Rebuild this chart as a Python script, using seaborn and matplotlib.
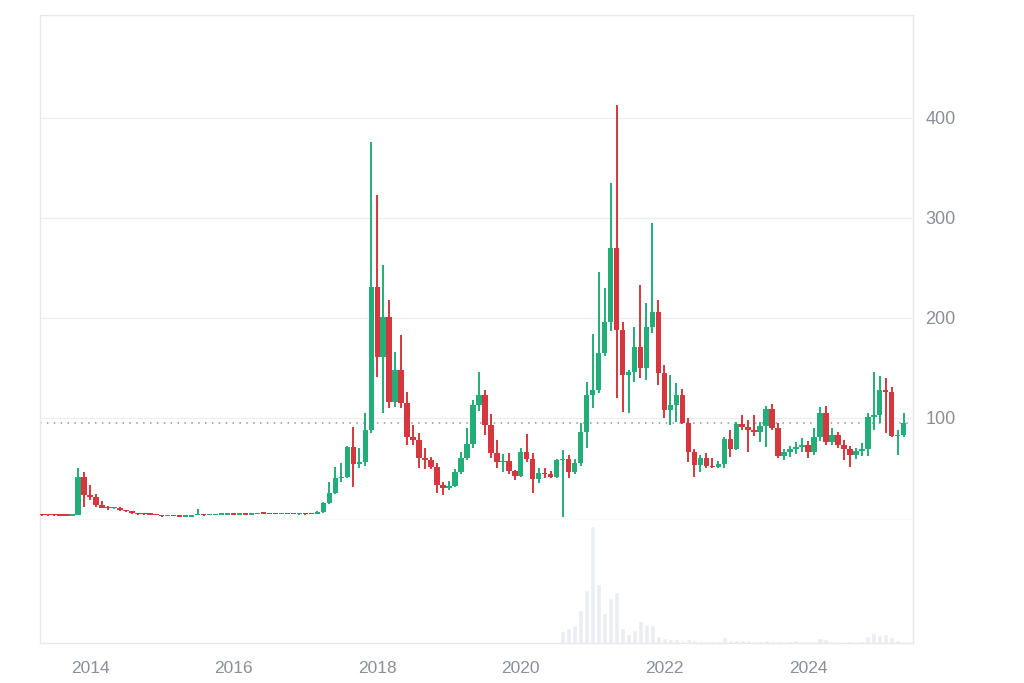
import pandas as pd
import matplotlib
matplotlib.use("Agg")
import matplotlib.pyplot as plt
import seaborn as sns

# monthly candles, May 2013 .. May 2025
months = pd.date_range("2013-05-01", "2025-05-01", freq="MS")

open_ = [
    4.3, 3.0, 2.8, 2.6, 2.5, 2.1, 3.1, 41,
    23, 21, 13, 10.5, 10, 10.5, 8.2, 6.8, 5.0, 3.9, 3.8, 3.5,
    2.7, 1.7, 1.8, 1.6, 1.4, 1.4, 2.8, 4.2, 2.8, 2.9, 3.1, 3.4,
    3.5, 3.1, 3.3, 3.2, 3.7, 4.7, 4.2, 4.0, 3.7, 3.9, 3.85, 3.8,
    4.3, 4.0, 3.8, 6, 15, 25, 40, 41, 71, 54, 56, 88,
    231, 161, 201, 116, 148, 115, 81, 78, 60, 58, 51, 33,
    30, 32, 46, 60, 74, 113, 123, 93, 65, 56, 57, 47,
    42, 66, 59, 39, 45, 44, 41, 58, 59, 46, 55, 86,
    123, 128, 165, 196, 270, 188, 143, 146, 171, 150, 191, 206,
    145, 108, 113, 123, 95, 66, 53, 60, 52, 51, 54, 79,
    69, 94, 91, 88, 86, 92, 109, 90, 62, 66, 69, 71,
    73, 66, 81, 105, 76, 83, 73, 69, 63, 67, 69, 101,
    103, 128, 126, 82, 83,
]
high = [
    4.4, 3.1, 3.0, 3.0, 2.7, 3.4, 50, 46,
    33, 24, 17, 12, 11.5, 11.5, 8.5, 7.0, 5.3, 4.2, 4.0, 3.6,
    2.8, 2.1, 2.2, 1.7, 1.6, 3.0, 8.9, 4.3, 3.2, 3.3, 4.7, 4.3,
    4.0, 3.6, 3.5, 3.9, 4.9, 5.0, 4.3, 4.0, 4.0, 4.1, 4.1, 4.6,
    4.6, 4.1, 7.2, 16, 36, 51, 55, 72, 91, 70, 105, 376,
    323, 253, 218, 166, 183, 126, 93, 85, 70, 61, 55, 36,
    37, 49, 66, 90, 118, 146, 128, 104, 78, 64, 65, 48,
    70, 84, 65, 50, 50, 47, 59, 68, 63, 59, 95, 136,
    184, 246, 230, 335, 413, 196, 148, 191, 233, 215, 295, 218,
    153, 143, 135, 129, 100, 69, 63, 65, 60, 57, 81, 88,
    96, 103, 98, 103, 96, 112, 114, 95, 69, 72, 76, 80,
    77, 90, 111, 112, 90, 86, 78, 72, 70, 75, 105, 146,
    142, 140, 131, 88, 105,
]
low = [
    2.2, 2.5, 2.3, 2.4, 2.0, 2.0, 2.9, 11,
    18, 11.5, 10, 8.5, 9.5, 7.5, 6.5, 4.5, 3.3, 3.4, 3.3, 2.6,
    1.1, 1.6, 1.6, 1.3, 1.3, 1.3, 2.8, 2.4, 2.7, 2.9, 2.9, 3.2,
    3.0, 3.0, 3.1, 3.1, 3.6, 4.0, 3.8, 3.6, 3.6, 3.7, 3.7, 3.5,
    3.5, 3.7, 3.7, 5.5, 14, 24, 36, 40, 31, 50, 52, 85,
    141, 105, 110, 111, 110, 73, 73, 50, 49, 49, 25, 23,
    28, 31, 44, 58, 70, 107, 83, 60, 50, 46, 44, 38,
    41, 56, 25, 35, 40, 40, 40, 1, 40, 44, 52, 70,
    110, 125, 162, 187, 120, 106, 105, 136, 140, 138, 185, 133,
    100, 93, 96, 94, 56, 41, 46, 50, 50, 50, 50, 61,
    68, 88, 66, 82, 76, 71, 88, 60, 58, 61, 64, 66,
    60, 63, 77, 73, 73, 70, 58, 51, 59, 62, 62, 88,
    95, 85, 81, 63, 81,
]
close = [
    3.0, 2.8, 2.6, 2.5, 2.1, 3.1, 41, 23,
    21, 13, 10.5, 10, 10.5, 8.2, 6.8, 5.0, 3.9, 3.8, 3.5, 2.7,
    1.7, 1.8, 1.6, 1.4, 1.4, 2.8, 4.2, 2.8, 2.9, 3.1, 3.4, 3.5,
    3.1, 3.3, 3.2, 3.7, 4.7, 4.2, 4.0, 3.7, 3.9, 3.85, 3.8, 4.3,
    4.0, 3.8, 6, 15, 25, 40, 41, 71, 54, 56, 88, 231,
    161, 201, 116, 148, 115, 81, 78, 60, 58, 51, 33, 30,
    32, 46, 60, 74, 113, 123, 93, 65, 56, 57, 47, 42,
    66, 59, 39, 45, 44, 41, 58, 59, 46, 55, 86, 123,
    128, 165, 196, 270, 188, 143, 146, 171, 150, 191, 206, 145,
    108, 113, 123, 95, 66, 53, 60, 52, 51, 54, 79, 69,
    94, 91, 88, 86, 92, 109, 90, 62, 66, 69, 71, 73,
    66, 81, 105, 76, 83, 73, 69, 63, 67, 69, 101, 103,
    128, 126, 82, 83, 95,
]
volume = [
    0, 0, 0, 0, 0, 0, 0, 0,
    0, 0, 0, 0, 0, 0, 0, 0, 0, 0, 0, 0,
    0, 0, 0, 0, 0, 0, 0, 0, 0, 0, 0, 0,
    0, 0, 0, 0, 0, 0, 0, 0, 0, 0, 0, 0,
    0, 0, 0, 0, 0, 0, 0, 0, 0, 0, 0, 0,
    0, 0, 0, 0, 0, 0, 0, 0, 0, 0, 0, 0,
    0, 0, 0, 0, 0, 0, 0, 0, 0, 0, 0, 0,
    0, 0, 0, 0, 0, 0, 0, 12, 15, 18, 33, 53,
    117, 59, 30, 45, 51, 15, 9, 13, 22, 18, 18, 7,
    5, 4, 4.3, 3, 4, 3, 2.5, 2.5, 2, 2, 5.7, 3,
    3, 3, 3.5, 2.5, 2, 3, 2.5, 2, 1.5, 2, 3, 2.5,
    2, 2.5, 5, 4, 2, 1.5, 1.5, 2, 1.5, 2, 7, 10,
    8, 9, 6, 3, 2,
]
year_ticks = [2014, 2016, 2018, 2020, 2022, 2024]
price_ticks = [100, 200, 300, 400]
last_price = 95

GREEN = "#22ae78"
RED = "#d6373e"
LINE = "#e8e8e8"
TEXT = "#8a8f98"

df = pd.DataFrame({"date": months, "open": open_, "high": high,
                   "low": low, "close": close, "volume": volume})
df["x"] = df["date"].dt.year + (df["date"].dt.month - 1) / 12
df["up"] = df["close"] >= df["open"]
df["color"] = df["up"].map({True: GREEN, False: RED})
body = (df["close"] - df["open"]).abs().clip(lower=1.5)
bottom = df[["open", "close"]].min(axis=1)

sns.set_theme(style="white")
plt.rcParams["font.family"] = ["Liberation Sans", "DejaVu Sans"]

fig = plt.figure(figsize=(10.24, 6.83), dpi=100)
ax = fig.add_axes([40 / 1024, 1 - 520 / 683, 873 / 1024, 505 / 683])
axv = fig.add_axes([40 / 1024, 1 - 643 / 683, 873 / 1024, 123 / 683])

# volume panel
sns.barplot(x=df["x"], y=df["volume"], native_scale=True, width=0.85,
            color="#eaedf4", saturation=1, errorbar=None, ax=axv)

# candles
ax.vlines(df["x"], df["low"], df["high"], colors=df["color"], linewidth=1.4, zorder=3)
ax.bar(df["x"], body, bottom=bottom, width=0.075, color=df["color"],
       linewidth=0, zorder=4)

for y in price_ticks:
    ax.axhline(y, color="#eeeeee", linewidth=0.9, zorder=1)
ax.axhline(last_price, color="#8f959e", linewidth=1.1, linestyle=(0, (1, 3.5)), zorder=2)

xlim = (2013.3036, 2025.4624)
ax.set_xlim(xlim)
axv.set_xlim(xlim)
ax.set_ylim(-2, 503)
axv.set_ylim(0, 123)

ax.yaxis.tick_right()
ax.set_yticks(price_ticks)
ax.set_yticklabels([str(t) for t in price_ticks])
ax.tick_params(axis="y", length=0, pad=9, labelsize=13, labelcolor=TEXT)
ax.set_xticks([])
ax.set_xlabel("")
ax.set_ylabel("")

axv.set_yticks([])
axv.set_xticks(year_ticks)
axv.set_xticklabels([str(t) for t in year_ticks])
axv.tick_params(axis="x", length=0, pad=13, labelsize=12.5, labelcolor=TEXT)
axv.set_xlabel("")
axv.set_ylabel("")

for a in (ax, axv):
    for s in a.spines.values():
        s.set_color(LINE)
        s.set_linewidth(1.0)
axv.spines["top"].set_visible(False)

fig.savefig("out.png", dpi=100, facecolor="white")
